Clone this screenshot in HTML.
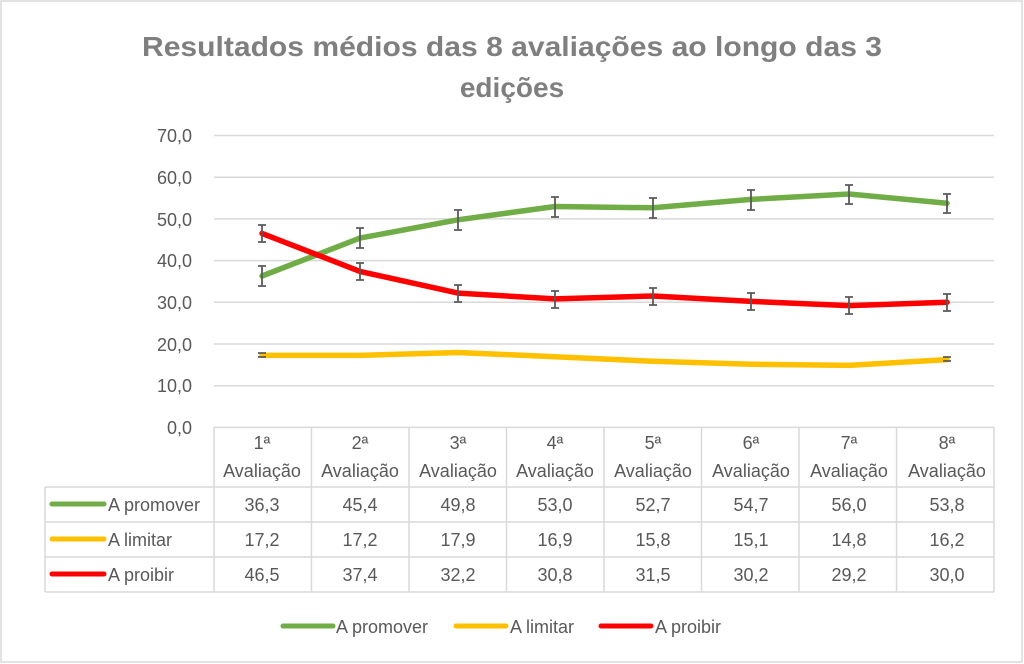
<!DOCTYPE html>
<html><head><meta charset="utf-8"><style>
html,body{margin:0;padding:0;background:#fff}
svg{display:block}
text{font-family:"Liberation Sans",sans-serif;fill:#595959}
</style></head><body>
<svg width="1024" height="664" viewBox="0 0 1024 664" xmlns="http://www.w3.org/2000/svg">
<rect x="1" y="1" width="1021" height="661" fill="#fff" stroke="#d9d9d9" stroke-width="1.5"/>
<text x="512" y="56" text-anchor="middle" font-size="28" font-weight="bold" style="fill:#7f7f7f" textLength="740" lengthAdjust="spacingAndGlyphs">Resultados médios das 8 avaliações ao longo das 3</text>
<text x="512" y="97" text-anchor="middle" font-size="28" font-weight="bold" style="fill:#7f7f7f">edições</text>
<g stroke="#d9d9d9" stroke-width="1.5">
<line x1="214" y1="135.5" x2="994" y2="135.5"/>
<line x1="214" y1="177.2" x2="994" y2="177.2"/>
<line x1="214" y1="218.9" x2="994" y2="218.9"/>
<line x1="214" y1="260.6" x2="994" y2="260.6"/>
<line x1="214" y1="302.3" x2="994" y2="302.3"/>
<line x1="214" y1="344" x2="994" y2="344"/>
<line x1="214" y1="385.7" x2="994" y2="385.7"/>
<!-- table -->
<line x1="214" y1="427.4" x2="994" y2="427.4"/>
<line x1="45" y1="487" x2="994" y2="487"/>
<line x1="45" y1="522" x2="994" y2="522"/>
<line x1="45" y1="557" x2="994" y2="557"/>
<line x1="45" y1="592" x2="994" y2="592"/>
<line x1="45" y1="487" x2="45" y2="592"/>
<line x1="214" y1="427" x2="214" y2="592"/>
<line x1="311.5" y1="427" x2="311.5" y2="592"/>
<line x1="409" y1="427" x2="409" y2="592"/>
<line x1="506.5" y1="427" x2="506.5" y2="592"/>
<line x1="604" y1="427" x2="604" y2="592"/>
<line x1="701.5" y1="427" x2="701.5" y2="592"/>
<line x1="799" y1="427" x2="799" y2="592"/>
<line x1="896.5" y1="427" x2="896.5" y2="592"/>
<line x1="994" y1="427" x2="994" y2="592"/>
</g>
<g font-size="18" text-anchor="end">
<text x="192" y="142">70,0</text>
<text x="192" y="184">60,0</text>
<text x="192" y="226">50,0</text>
<text x="192" y="267">40,0</text>
<text x="192" y="309">30,0</text>
<text x="192" y="351">20,0</text>
<text x="192" y="392">10,0</text>
<text x="192" y="434">0,0</text>
</g>
<!-- series -->
<g fill="none" stroke-width="5.5" stroke-linejoin="round" stroke-linecap="round">
<polyline stroke="#ffc000" points="262,355.4 360,355.4 458,352.5 555,356.7 653,361.3 751,364.2 849,365.4 947,359.6"/>
<polyline stroke="#70ad47" points="262,276 360,238.1 458,219.8 555,206.5 653,207.8 751,199.4 849,194 947,203.2"/>
<polyline stroke="#ff0000" points="262,233.4 360,271.4 458,293.1 555,298.9 653,296 751,301.4 849,305.6 947,302.3"/>
</g>
<g stroke="#595959" stroke-width="1.8" fill="none">
<path d="M262,266v20M258,266h8M258,286h8 M360,228v20M356,228h8M356,248h8 M458,210v20M454,210h8M454,230h8 M555,197v20M551,197h8M551,217h8 M653,198v20M649,198h8M649,218h8 M751,190v20M747,190h8M747,210h8 M849,185v19M845,185h8M845,204h8 M947,194v19M943,194h8M943,213h8"/>
<path d="M262,225v17M258,225h8M258,242h8 M360,263v17M356,263h8M356,280h8 M458,285v17M454,285h8M454,302h8 M555,291v17M551,291h8M551,308h8 M653,288v17M649,288h8M649,305h8 M751,293v17M747,293h8M747,310h8 M849,297v17M845,297h8M845,314h8 M947,294v17M943,294h8M943,311h8"/>
<path d="M258,353h8M258,357h8 M943,357h8M943,361h8"/>
</g>
<!-- table text -->
<g font-size="18" text-anchor="middle">
<text x="262" y="449">1ª</text><text x="262" y="477">Avaliação</text>
<text x="360" y="449">2ª</text><text x="360" y="477">Avaliação</text>
<text x="458" y="449">3ª</text><text x="458" y="477">Avaliação</text>
<text x="555" y="449">4ª</text><text x="555" y="477">Avaliação</text>
<text x="653" y="449">5ª</text><text x="653" y="477">Avaliação</text>
<text x="751" y="449">6ª</text><text x="751" y="477">Avaliação</text>
<text x="849" y="449">7ª</text><text x="849" y="477">Avaliação</text>
<text x="947" y="449">8ª</text><text x="947" y="477">Avaliação</text>
<text x="262" y="511">36,3</text><text x="360" y="511">45,4</text><text x="458" y="511">49,8</text><text x="555" y="511">53,0</text><text x="653" y="511">52,7</text><text x="751" y="511">54,7</text><text x="849" y="511">56,0</text><text x="947" y="511">53,8</text>
<text x="262" y="546">17,2</text><text x="360" y="546">17,2</text><text x="458" y="546">17,9</text><text x="555" y="546">16,9</text><text x="653" y="546">15,8</text><text x="751" y="546">15,1</text><text x="849" y="546">14,8</text><text x="947" y="546">16,2</text>
<text x="262" y="581">46,5</text><text x="360" y="581">37,4</text><text x="458" y="581">32,2</text><text x="555" y="581">30,8</text><text x="653" y="581">31,5</text><text x="751" y="581">30,2</text><text x="849" y="581">29,2</text><text x="947" y="581">30,0</text>
</g>
<g stroke-width="5" stroke-linecap="round">
<line x1="52" y1="504" x2="104" y2="504" stroke="#70ad47"/>
<line x1="52" y1="539" x2="104" y2="539" stroke="#ffc000"/>
<line x1="52" y1="574" x2="104" y2="574" stroke="#ff0000"/>
<line x1="283" y1="626" x2="333" y2="626" stroke="#70ad47"/>
<line x1="456" y1="626" x2="506" y2="626" stroke="#ffc000"/>
<line x1="601" y1="626" x2="651" y2="626" stroke="#ff0000"/>
</g>
<g font-size="18">
<text x="108" y="511">A promover</text>
<text x="108" y="546">A limitar</text>
<text x="108" y="581">A proibir</text>
<text x="336" y="633">A promover</text>
<text x="510" y="633">A limitar</text>
<text x="655" y="633">A proibir</text>
</g>
</svg>
</body></html>
